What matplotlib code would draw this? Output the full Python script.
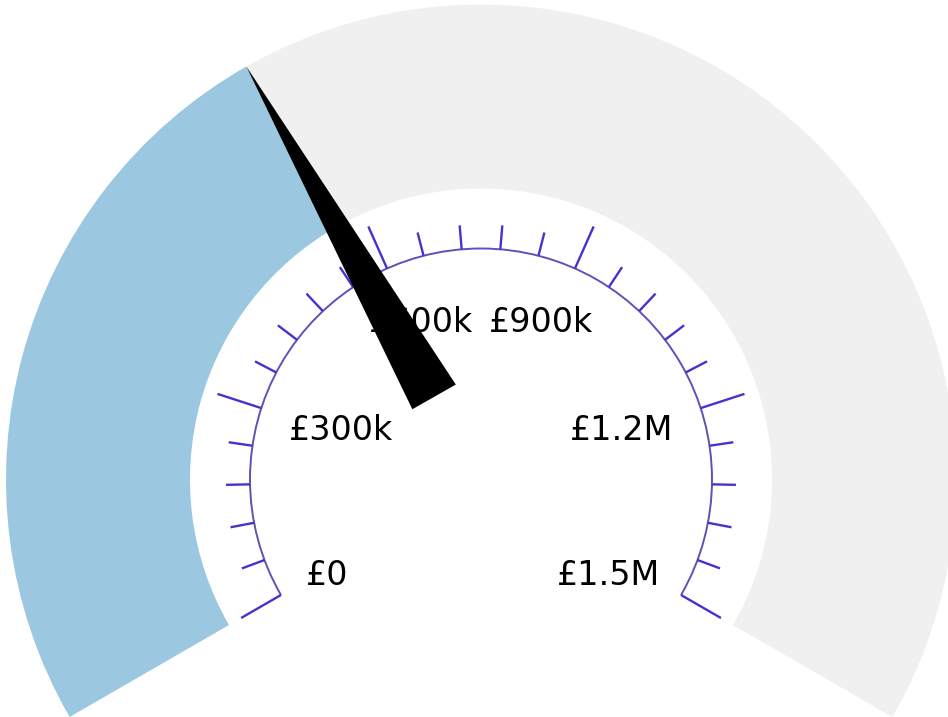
import numpy as np
import matplotlib.pyplot as plt
from matplotlib.patches import Wedge, Arc, Polygon

# gauge data
value = 565000
max_value = 1500000
major_step = 300000
minor_step = 60000
tick_labels = ["£0", "£300k", "£600k", "£900k", "£1.2M", "£1.5M"]

fill_color = "#9bc8e0"
track_color = "#f0f0f0"
tick_color = "#4632cc"
arc_color = "#5a54b8"

# geometry in pixels (1 data unit = 1 px)
W, H = 948, 717
cx, cy = 481, H - 479.5
r_out, r_in = 475, 291
r_ticks = 231
major_len, minor_len = 46, 24
needle_base_r, needle_half_w = 95, 25
label_r = 199
start_deg, sweep = 210, 240


def ang(v):
    return start_deg - sweep * v / max_value


fig = plt.figure(figsize=(W / 100, H / 100), dpi=100)
ax = fig.add_axes([0, 0, 1, 1])
ax.set_xlim(0, W)
ax.set_ylim(0, H)
ax.axis('off')

# coloured band: filled part up to the value, grey for the rest
a_val = ang(value)
ax.add_patch(Wedge((cx, cy), r_out, a_val, start_deg, width=r_out - r_in,
                   fc=fill_color, ec='none', zorder=1))
ax.add_patch(Wedge((cx, cy), r_out, start_deg - sweep, a_val, width=r_out - r_in,
                   fc=track_color, ec='none', zorder=1))

# tick arc + ticks
ax.add_patch(Arc((cx, cy), 2 * r_ticks, 2 * r_ticks, theta1=start_deg - sweep,
                 theta2=start_deg, color=arc_color, lw=1.4, zorder=2))
for v in np.arange(0, max_value + 1, minor_step):
    t = np.radians(ang(v))
    ln = major_len if v % major_step == 0 else minor_len
    ax.plot([cx + r_ticks * np.cos(t), cx + (r_ticks + ln) * np.cos(t)],
            [cy + r_ticks * np.sin(t), cy + (r_ticks + ln) * np.sin(t)],
            color=tick_color, lw=1.7, solid_capstyle='butt', zorder=3)

# labels, pulled inside the arc depending on direction
fig.canvas.draw()
rend = fig.canvas.get_renderer()
for i, lab in enumerate(tick_labels):
    t = np.radians(ang(i * major_step))
    c, s = np.cos(t), np.sin(t)
    txt = ax.text(0, 0, lab, fontsize=24, ha='center', va='center',
                  family='DejaVu Sans', color='black', zorder=4)
    bb = txt.get_window_extent(renderer=rend)
    x = cx + label_r * c - bb.width * c / 2
    y = cy + label_r * s - 19.5 * s - 6.5
    txt.set_position((x, y))

# needle
t = np.radians(a_val)
u = np.array([np.cos(t), np.sin(t)])
p = np.array([-u[1], u[0]])
ctr = np.array([cx, cy])
tip = ctr + r_out * u
b1 = ctr + needle_base_r * u + needle_half_w * p
b2 = ctr + needle_base_r * u - needle_half_w * p
ax.add_patch(Polygon([tip, b1, b2], closed=True, fc='black', ec='none', zorder=5))

fig.savefig('out.png', dpi=100)
